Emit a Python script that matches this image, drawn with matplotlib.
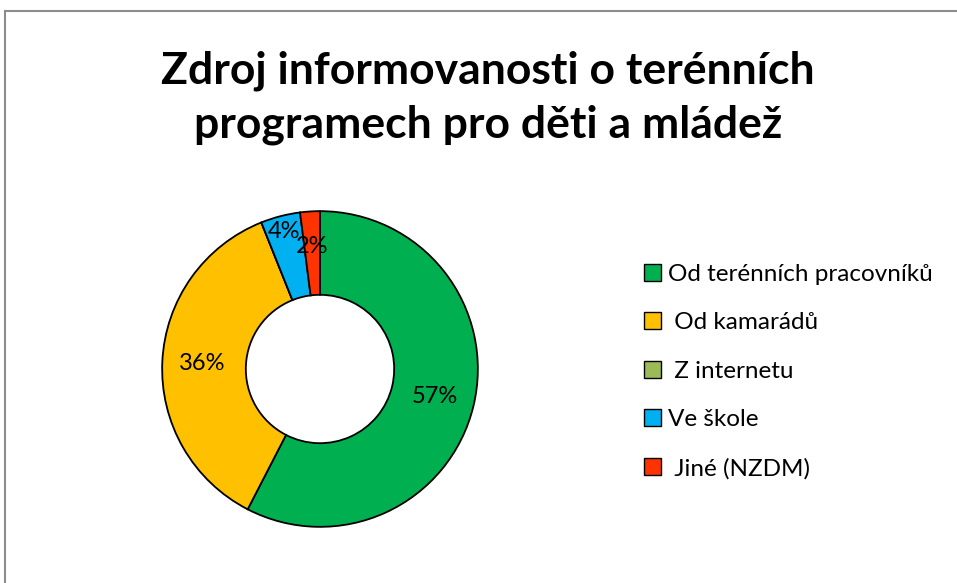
import numpy as np
import matplotlib
matplotlib.use("Agg")
import matplotlib.pyplot as plt
from matplotlib.lines import Line2D
from matplotlib.patches import Patch

plt.rcParams["font.family"] = ["Lato", "DejaVu Sans"]

categories = ["Od terénních pracovníků", " Od kamarádů", " Z internetu", "Ve škole", " Jiné (NZDM)"]
values = [57, 36, 0, 4, 2]
colors = ["#00B050", "#FFC000", "#9BBB59", "#00B0F0", "#FF3300"]
label_radius = [0.75, 0.75, 0.75, 0.90, 0.78]

W, H = 957, 583
fig = plt.figure(figsize=(W / 100, H / 100), dpi=100)

# chart area border (only left and top visible in the crop)
fig.add_artist(Line2D([5 / W, 5 / W], [0, 1 - 11 / H], color="#8c8c8c", lw=1.5))
fig.add_artist(Line2D([5 / W, 1], [1 - 11 / H, 1 - 11 / H], color="#8c8c8c", lw=1.5))

fig.text(488 / W, 1 - 98 / H, "Zdroj informovanosti o terénních\nprogramech pro děti a mládež",
         ha="center", va="center", fontsize=32, fontweight="bold", linespacing=1.42)

cx, cy, r = 320, 369, 161
ax = fig.add_axes([(cx - r) / W, (H - cy - r) / H, 2 * r / W, 2 * r / H])
wedges, _ = ax.pie(values, colors=colors, startangle=90, counterclock=False, radius=1,
                   wedgeprops=dict(width=0.53, edgecolor="black", linewidth=1.3))
ax.set_xlim(-1.02, 1.02)
ax.set_ylim(-1.02, 1.02)
ax.set_aspect("equal")
ax.axis("off")

for w, v, rad in zip(wedges, values, label_radius):
    if v == 0:
        continue
    ang = np.deg2rad((w.theta1 + w.theta2) / 2)
    ax.text(rad * np.cos(ang), rad * np.sin(ang), f"{v}%", ha="center", va="center", fontsize=17)

handles = [Patch(facecolor=c, edgecolor="black", linewidth=1.0) for c in colors]
fig.legend(handles, categories, loc="upper left", bbox_to_anchor=(622 / W, 1 - 242 / H),
           frameon=False, fontsize=17.5, handlelength=0.7, handleheight=0.7,
           handletextpad=0.3, labelspacing=1.13)

fig.savefig("out.png", dpi=100)
